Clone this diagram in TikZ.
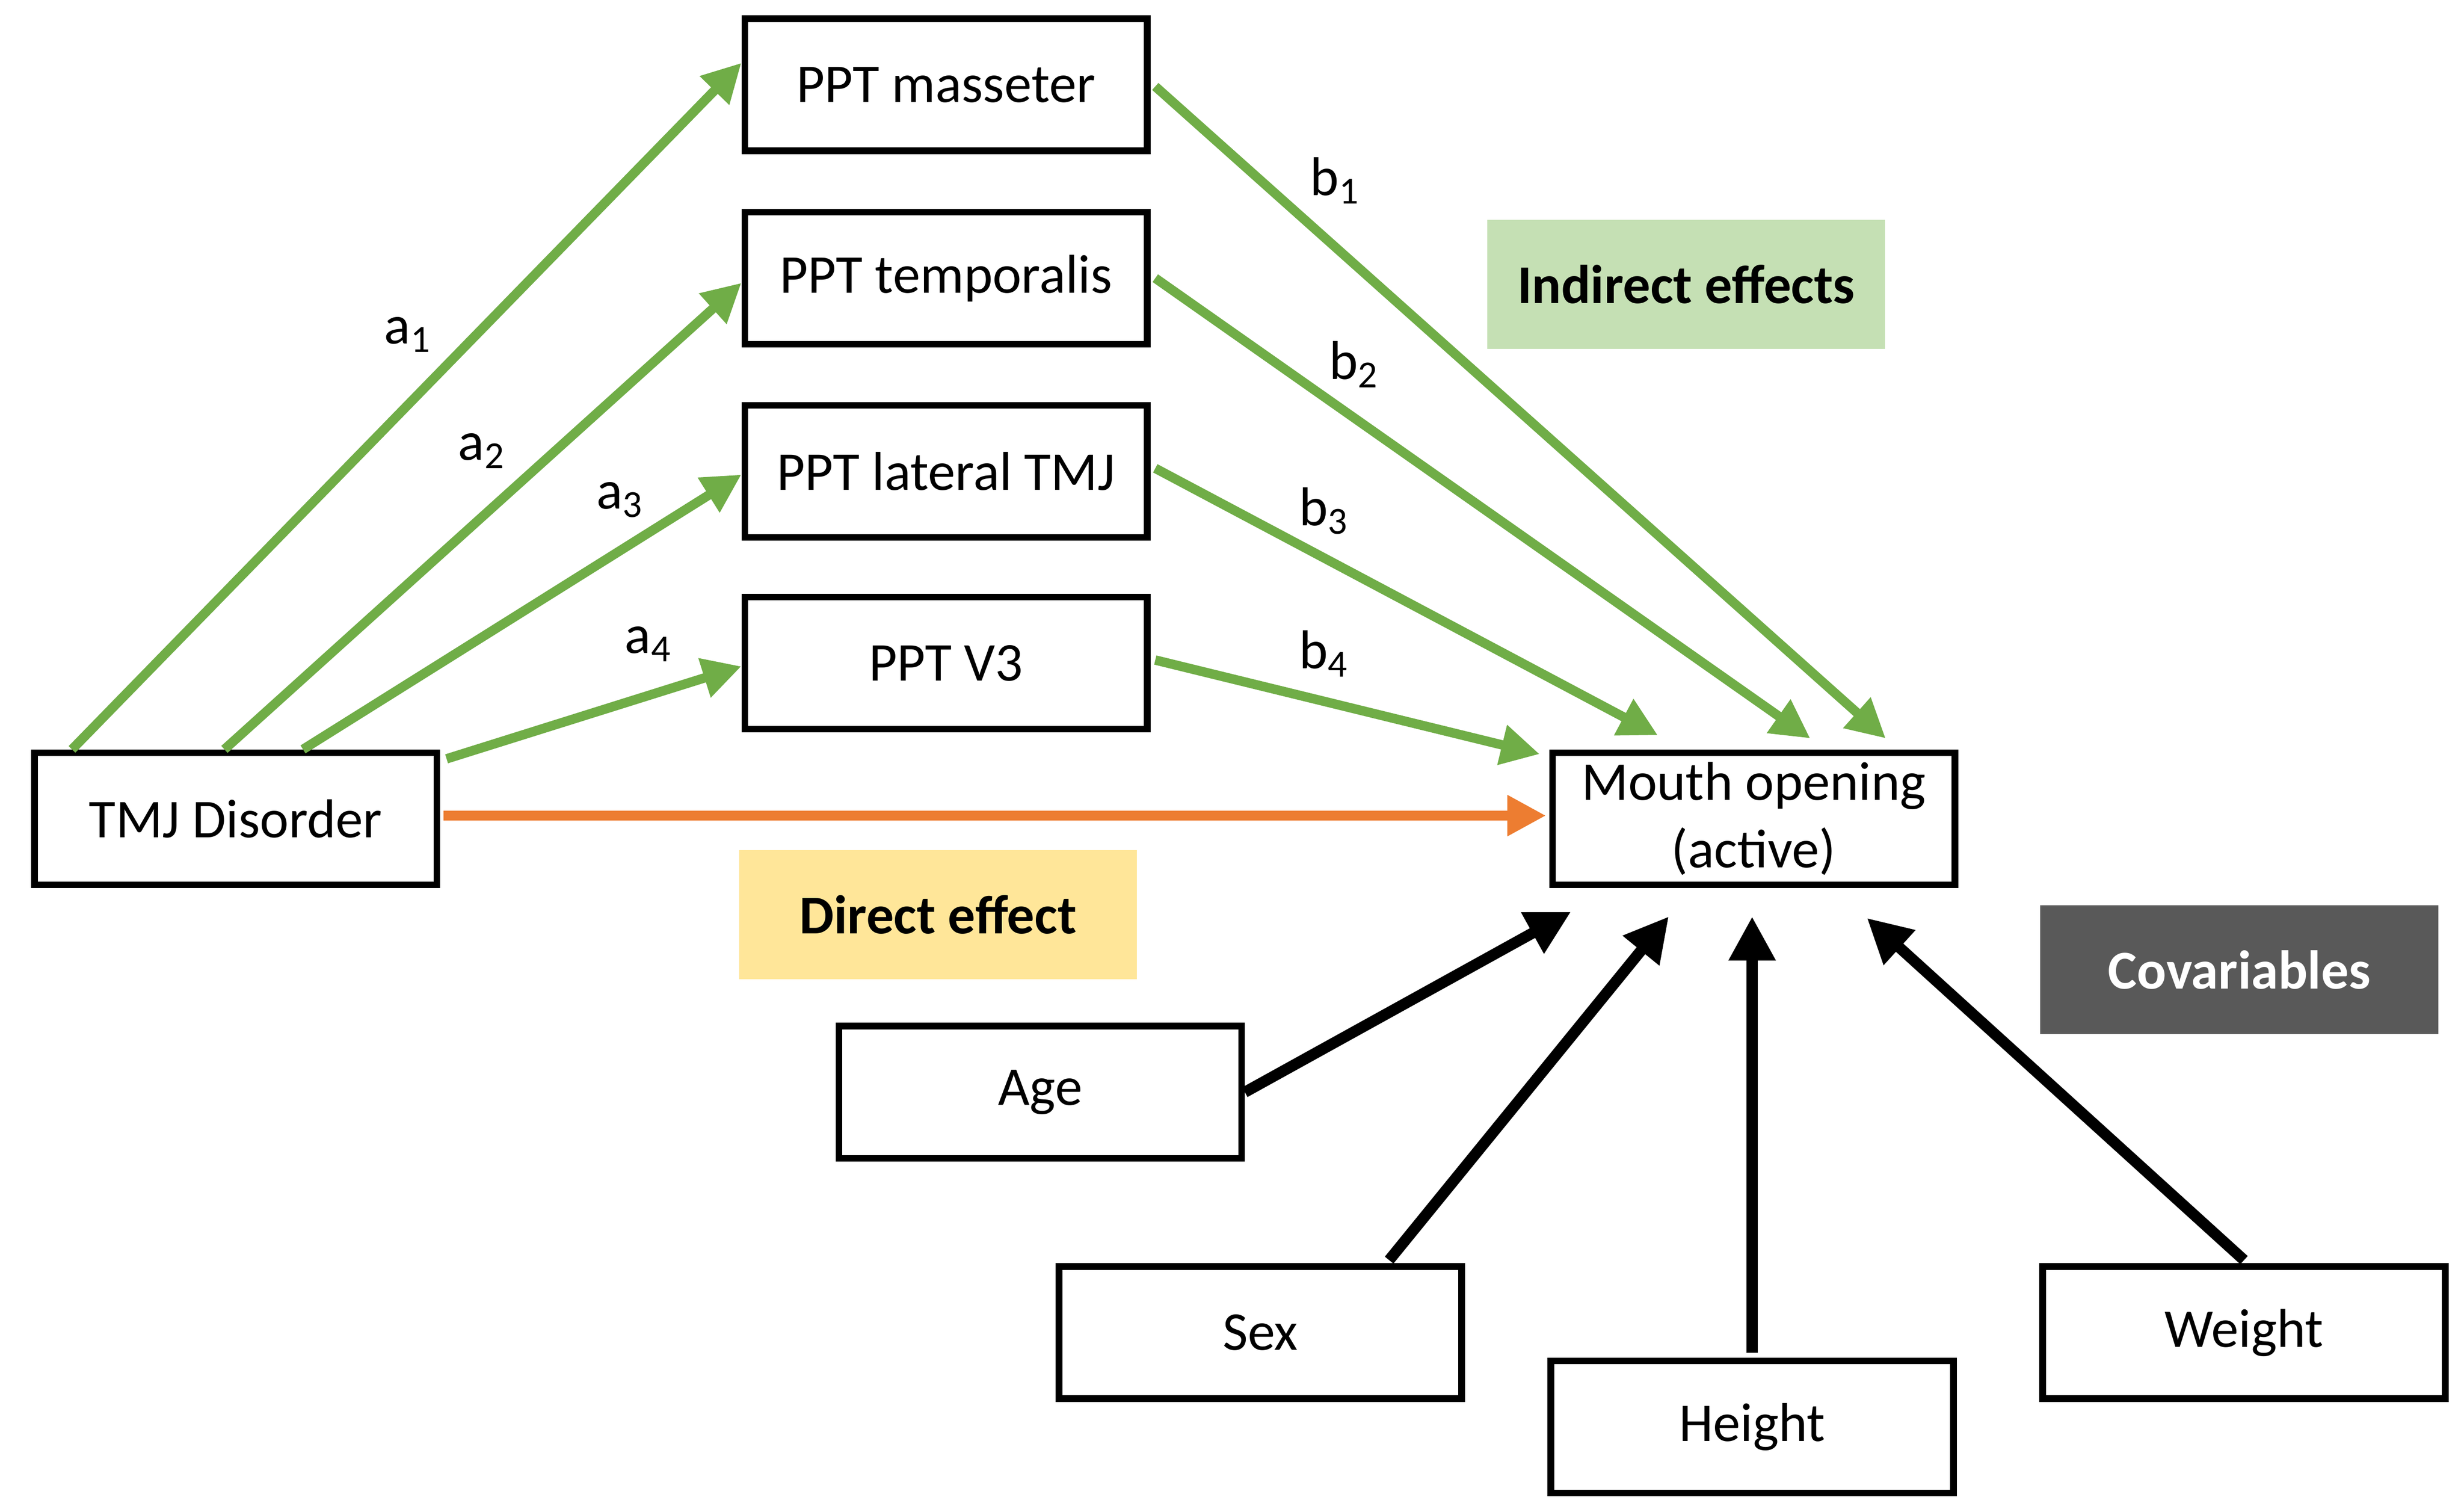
\documentclass[tikz,border=0pt]{standalone}
\usepackage{fontspec}
\setmainfont{Carlito}
\usetikzlibrary{arrows.meta,calc,positioning}
\definecolor{pgreen}{HTML}{70AD47}
\definecolor{porange}{HTML}{ED7D31}
\definecolor{lgreen}{HTML}{C5E0B4}
\definecolor{lyellow}{HTML}{FFE699}
\definecolor{dgray}{HTML}{595959}
\tikzset{
  box/.style={draw,line width=1.2pt,minimum width=2.56cm,minimum height=0.84cm,inner sep=0pt,align=center,font=\fontsize{9.9}{12.2}\selectfont},
  tag/.style={minimum width=2.53cm,minimum height=0.82cm,inner sep=0pt,font=\fontsize{9.9}{11}\selectfont\bfseries},
  gpath/.style={draw=pgreen,line width=1.7pt,-{Triangle[length=7pt,width=7pt]}},
  opath/.style={draw=porange,line width=1.7pt,-{Triangle[length=7pt,width=7pt]}},
  kpath/.style={draw=black,line width=2pt,-{Triangle[length=8pt,width=8pt]}},
  lab/.style={font=\fontsize{9.9}{11}\selectfont}
}
\begin{document}
\begin{tikzpicture}[x=0.01cm,y=-0.01cm]
\useasboundingbox (0,0) rectangle (1568,960);
\node[box] (mas) at (602,54) {PPT masseter};
\node[box] (tem) at (602,177) {PPT temporalis};
\node[box] (lat) at (602,300) {PPT lateral TMJ};
\node[box] (vthree) at (602,422) {PPT V3};
\node[box] (tmj) at (150,521) {TMJ Disorder};
\node[box] (mouth) at (1116,521) {Mouth opening\\(active)};
\node[box] (age) at (662,695) {Age};
\node[box] (sex) at (802,848) {Sex};
\node[box] (height) at (1115,908) {Height};
\node[box] (weight) at (1428,848) {Weight};
\node[tag,fill=lgreen] (ind) at (1073,181) {Indirect effects};
\node[tag,fill=lyellow] (dir) at (597,582) {Direct effect};
\node[tag,fill=dgray,text=white] (cov) at (1425,617) {Covariables};
% indirect paths
\draw[gpath] ($(tmj.north west)+(26,0)$) -- ($(mas.west)+(0,-14)$);
\draw[gpath] ($(tmj.north west)+(123,0)$) -- ($(tem.west)+(0,3)$);
\draw[gpath] ($(tmj.north west)+(173,0)$) -- ($(lat.west)+(0,2)$);
\draw[gpath] ($(tmj.north east)+(4,6)$) -- ($(vthree.west)+(0,2)$);
\draw[gpath] ($(mas.east)+(3,1)$) -- ($(mouth.north)+(84,-7)$);
\draw[gpath] ($(tem.east)+(3,0)$) -- ($(mouth.north)+(36,-7)$);
\draw[gpath] ($(lat.east)+(3,-2)$) -- ($(mouth.north)+(-61,-9)$);
\draw[gpath] ($(vthree.east)+(3,-2)$) -- ($(mouth.north west)+(-6,3)$);
\node[lab] (aone) at (260,213) {a\textsubscript{1}};
\node[lab] (atwo) at (307,287) {a\textsubscript{2}};
\node[lab] (athree) at (395,318) {a\textsubscript{3}};
\node[lab] (afour) at (413,410) {a\textsubscript{4}};
\node[lab] (bone) at (850,115) {b\textsubscript{1}};
\node[lab] (btwo) at (862,232) {b\textsubscript{2}};
\node[lab] (bthree) at (843,325) {b\textsubscript{3}};
\node[lab] (bfour) at (843,416) {b\textsubscript{4}};
% direct path
\draw[opath] ($(tmj.east)+(2,-2)$) -- ($(mouth.west)+(-2,-2)$);
% covariables
\draw[kpath] ($(age.east)+(0,0)$) -- ($(mouth.south west)+(14,15)$);
\draw[kpath] ($(sex.north)+(82,-2)$) -- ($(mouth.south)+(-54,18)$);
\draw[kpath] ($(height.north)+(0,-3)$) -- ($(mouth.south)+(-1,18)$);
\draw[kpath] ($(weight.north)+(0,-2)$) -- ($(mouth.south)+(72,19)$);
\end{tikzpicture}
\end{document}
